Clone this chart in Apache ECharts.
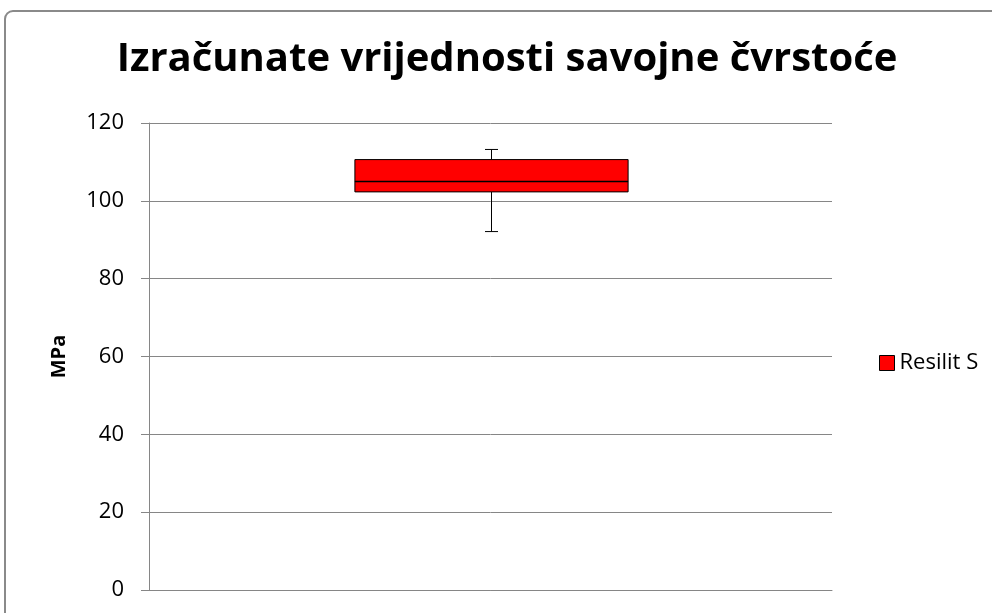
<!DOCTYPE html>
<html>
<head>
<meta charset="utf-8">
<script src="https://cdn.jsdelivr.net/npm/echarts@6/dist/echarts.min.js"></script>
<style>html,body{margin:0;padding:0;background:#fff}#c{width:992px;height:613px}</style>
</head>
<body>
<div id="c"></div>
<script>
const titleText = 'Izračunate vrijednosti savojne čvrstoće';
const categories = [''];
const seriesName = 'Resilit S';
// [min, Q1, median, Q3, max]
const boxValues = [[92.1, 102.3, 105.0, 110.6, 113.2]];
const yTicks = [0, 20, 40, 60, 80, 100, 120];
const yAxisName = 'MPa';

const FONT = '"Open Sans", "Noto Sans", sans-serif';
const chart = echarts.init(document.getElementById('c'), null, {renderer: 'canvas'});

const data = boxValues.map((v, i) => [i].concat(v));

chart.setOption({
  animation: false,
  backgroundColor: '#fff',
  graphic: [
    {type: 'rect', shape: {x: 5, y: 11, width: 1100, height: 800, r: 8}, style: {fill: 'none', stroke: '#8a8a8a', lineWidth: 2}, z: 100},
    {type: 'text', x: 507, y: 60, style: {text: titleText, font: 'bold 40px ' + FONT, fill: '#000', textAlign: 'center', textVerticalAlign: 'middle'}}
  ],
  legend: {
    data: [{name: seriesName, icon: 'rect'}],
    left: 874, top: 347, orient: 'vertical',
    itemWidth: 15, itemHeight: 15, itemGap: 6,
    itemStyle: {color: '#ff0000', borderColor: '#000', borderWidth: 1},
    textStyle: {fontFamily: FONT, fontSize: 22, color: '#000'}
  },
  grid: {left: 149, right: 160, top: 123, bottom: 23, containLabel: false},
  xAxis: {
    type: 'category', data: categories,
    axisLine: {show: true, lineStyle: {color: '#868686', width: 1}},
    axisTick: {show: false}, axisLabel: {show: false}, splitLine: {show: false}
  },
  yAxis: {
    type: 'value', min: yTicks[0], max: yTicks[yTicks.length - 1], interval: 20,
    name: yAxisName, nameLocation: 'middle', nameGap: 80, nameRotate: 90,
    nameTextStyle: {fontFamily: FONT, fontSize: 20, fontWeight: 'bold', color: '#000'},
    axisLine: {show: true, lineStyle: {color: '#868686', width: 1}},
    axisTick: {show: true, inside: false, length: 8, lineStyle: {color: '#868686'}},
    axisLabel: {fontFamily: FONT, fontSize: 22, color: '#000', margin: 25},
    splitLine: {show: true, lineStyle: {color: '#868686', width: 1}}
  },
  series: [{
    name: seriesName,
    type: 'custom',
    itemStyle: {color: '#ff0000', borderColor: '#000', borderWidth: 1},
    encode: {x: 0, y: [1, 2, 3, 4, 5]},
    renderItem: function (params, api) {
      const xi = api.value(0);
      const band = api.size([1, 0])[0];
      const bw = band * 0.4;
      const capW = 13;
      const pMin = api.coord([xi, api.value(1)]);
      const pQ1 = api.coord([xi, api.value(2)]);
      const pMed = api.coord([xi, api.value(3)]);
      const pQ3 = api.coord([xi, api.value(4)]);
      const pMax = api.coord([xi, api.value(5)]);
      const cx = Math.round(pMed[0]) + 0.5;
      const ls = {stroke: '#000', lineWidth: 1};
      return {
        type: 'group',
        children: [
          {type: 'line', shape: {x1: cx, y1: pQ1[1], x2: cx, y2: pMin[1]}, style: ls},
          {type: 'line', shape: {x1: cx, y1: pQ3[1], x2: cx, y2: pMax[1]}, style: ls},
          {type: 'line', shape: {x1: cx - capW / 2, y1: pMin[1], x2: cx + capW / 2, y2: pMin[1]}, style: ls},
          {type: 'line', shape: {x1: cx - capW / 2, y1: pMax[1], x2: cx + capW / 2, y2: pMax[1]}, style: ls},
          {type: 'rect', shape: {x: cx - bw / 2, y: pQ3[1], width: bw, height: pQ1[1] - pQ3[1]}, style: {fill: '#ff0000', stroke: '#000', lineWidth: 1}},
          {type: 'line', shape: {x1: cx - bw / 2, y1: pMed[1], x2: cx + bw / 2, y2: pMed[1]}, style: {stroke: '#000', lineWidth: 1.5}}
        ]
      };
    },
    data: data
  }]
});
</script>
</body>
</html>
